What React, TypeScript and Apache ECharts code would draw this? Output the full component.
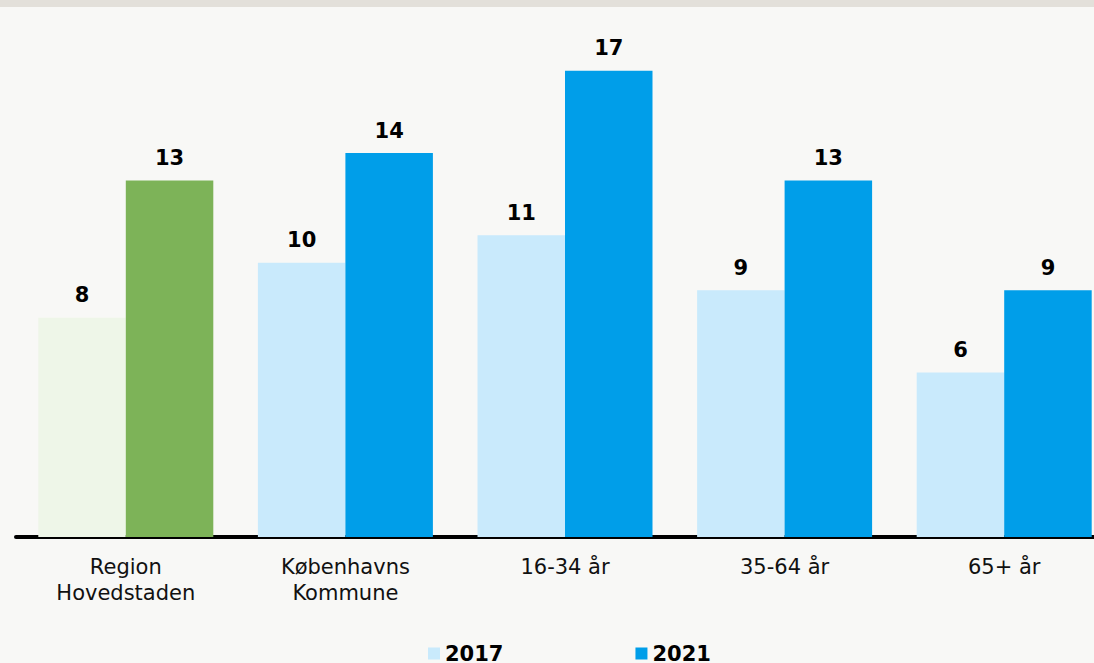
import React, { useEffect, useRef } from "react";
import * as echarts from "echarts";

const categories = ["Region\nHovedstaden", "Københavns\nKommune", "16-34 år", "35-64 år", "65+ år"];
const values2017 = [8, 10, 11, 9, 6];
const values2021 = [13, 14, 17, 13, 9];
const seriesNames = ["2017", "2021"];

const FONT = "DejaVu Sans, Verdana, sans-serif";
const light = "#c9eafc";
const dark = "#009ee9";
const lightGreen = "#eef6e8";
const green = "#7db358";

export default function App() {
  const ref = useRef<HTMLDivElement>(null);
  useEffect(() => {
    const chart = echarts.init(ref.current!, null, { renderer: "svg" });
    const label = {
      show: true,
      position: "top",
      distance: 12,
      fontFamily: FONT,
      fontWeight: "bold",
      fontSize: 21,
      color: "#000",
    };
    chart.setOption({
      animation: false,
      backgroundColor: "#f8f8f6",
      graphic: [
        { type: "rect", left: 0, top: 0, shape: { width: 1120, height: 7 }, style: { fill: "#e3e0da" } },
      ],
      grid: { left: 16, right: 0, top: 16, bottom: 126, containLabel: false },
      legend: {
        left: 428,
        top: 643,
        padding: 0,
        itemWidth: 12,
        itemHeight: 12,
        itemGap: 132,
        icon: "rect",
        textStyle: { fontFamily: FONT, fontWeight: "bold", fontSize: 21, color: "#000" },
        data: seriesNames,
      },
      xAxis: {
        type: "category",
        data: categories,
        axisLine: { show: true, lineStyle: { color: "#000", width: 4 } },
        axisTick: { show: false },
        axisLabel: {
          fontFamily: FONT,
          fontSize: 21,
          lineHeight: 26,
          color: "#111",
          margin: 17,
          verticalAlign: "top",
        },
      },
      yAxis: {
        type: "value",
        min: 0,
        max: 19,
        show: false,
        splitLine: { show: false },
      },
      series: [
        {
          name: seriesNames[0],
          type: "bar",
          barWidth: 87.5,
          barGap: "0%",
          itemStyle: { color: light },
          label,
          data: values2017.map((v, i) => (i === 0 ? { value: v, itemStyle: { color: lightGreen } } : v)),
        },
        {
          name: seriesNames[1],
          type: "bar",
          barWidth: 87.5,
          barGap: "0%",
          itemStyle: { color: dark },
          label,
          data: values2021.map((v, i) => (i === 0 ? { value: v, itemStyle: { color: green } } : v)),
        },
      ],
    });
    return () => chart.dispose();
  }, []);
  return (
    <div style={{ position: "absolute", left: 0, top: 0, width: 1094, height: 663, overflow: "hidden" }}>
      <div ref={ref} style={{ position: "absolute", left: 0, top: 0, width: 1114, height: 663 }} />
    </div>
  );
}
